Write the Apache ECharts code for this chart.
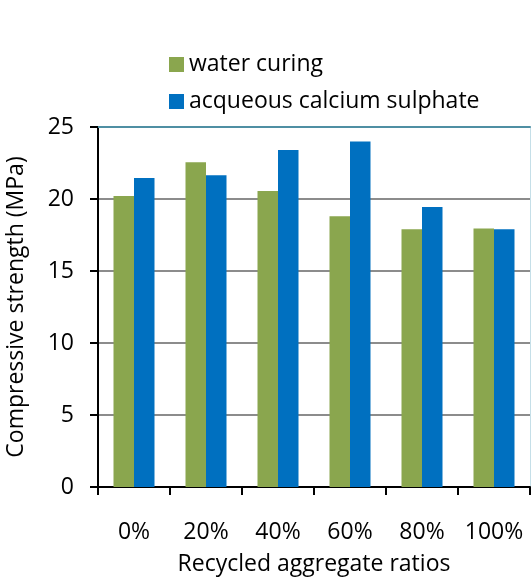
<!DOCTYPE html>
<html><head><meta charset="utf-8">
<script src="https://cdn.jsdelivr.net/npm/echarts@6/dist/echarts.min.js"></script>
<style>html,body{margin:0;padding:0;background:#fff}#c{width:531px;height:578px}</style>
</head><body><div id="c"></div>
<script>
var categories = ['0%', '20%', '40%', '60%', '80%', '100%'];
var waterCuring = [20.2, 22.55, 20.55, 18.8, 17.9, 17.95];
var calciumSulphate = [21.45, 21.65, 23.4, 24.0, 19.45, 17.9];
var yTicks = [0, 5, 10, 15, 20, 25];
var seriesNames = ['water curing', 'acqueous calcium sulphate'];

var FONT = 'Open Sans';
var FS = 23;
var chart = echarts.init(document.getElementById('c'), null, {renderer: 'canvas'});
chart.setOption({
  animation: false,
  backgroundColor: '#fff',
  textStyle: {fontFamily: FONT},
  legend: {
    orient: 'vertical', left: 164, top: 48,
    itemWidth: 15, itemHeight: 15, itemGap: 14,
    icon: 'rect',
    textStyle: {fontFamily: FONT, fontSize: FS, color: '#000'},
    data: seriesNames
  },
  grid: {left: 98, right: 1, top: 127, bottom: 91, containLabel: false, outerBoundsMode: 'none'},
  xAxis: [{
    type: 'category', data: categories,
    axisLine: {onZero: false, lineStyle: {color: '#000', width: 2}},
    axisTick: {show: true, interval: 0, length: 8, lineStyle: {color: '#000', width: 2}},
    axisLabel: {interval: 0, fontFamily: FONT, fontSize: FS, color: '#000', margin: 34},
    name: 'Recycled aggregate ratios', nameLocation: 'middle', nameGap: 66,
    nameTextStyle: {fontFamily: FONT, fontSize: FS, color: '#000'}
  }, {
    type: 'category', data: categories, position: 'top',
    axisLine: {onZero: false, lineStyle: {color: '#4f8fa3', width: 2}},
    axisTick: {show: false}, axisLabel: {show: false}
  }],
  yAxis: [{
    type: 'value', min: yTicks[0], max: yTicks[yTicks.length - 1], interval: 5,
    axisLine: {show: true, onZero: false, lineStyle: {color: '#000', width: 2}},
    axisTick: {show: true, length: 8, lineStyle: {color: '#000', width: 2}},
    axisLabel: {fontFamily: FONT, fontSize: FS, color: '#000', margin: 24},
    splitLine: {lineStyle: {color: '#8c8c8c', width: 2}},
    name: 'Compressive strength (MPa)', nameLocation: 'middle', nameGap: 70,
    nameTextStyle: {fontFamily: FONT, fontSize: FS, color: '#000'}
  }, {
    type: 'value', position: 'right', min: 0, max: 25, interval: 5,
    axisLine: {show: true, onZero: false, lineStyle: {color: '#c5dfe8', width: 1}},
    axisTick: {show: false}, axisLabel: {show: false}, splitLine: {show: false}
  }],
  series: [{
    name: seriesNames[0], type: 'bar', data: waterCuring,
    barWidth: 20.5, barGap: '0%',
    itemStyle: {color: '#8aa64e'}
  }, {
    name: seriesNames[1], type: 'bar', data: calciumSulphate,
    barWidth: 20.5, barGap: '0%',
    itemStyle: {color: '#0070c0'}
  }]
});
</script></body></html>
